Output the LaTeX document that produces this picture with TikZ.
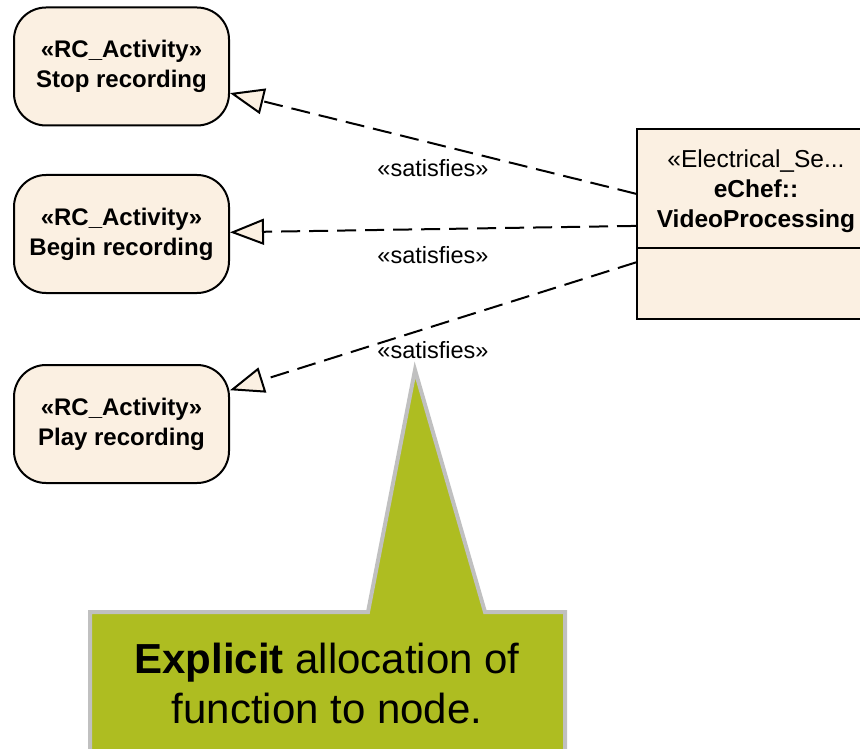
\documentclass[tikz,border=0pt]{standalone}
\usepackage{fontspec}
\setmainfont{Liberation Sans}
\usepackage{tikz}
\usetikzlibrary{arrows.meta}

\definecolor{boxfill}{HTML}{FBF0E2}
\definecolor{notefill}{HTML}{AEBD21}
\definecolor{noteline}{HTML}{C0C0C0}

\begin{document}
\begin{tikzpicture}[x=1pt,y=-1pt,
	every node/.style={black},
	activity/.style={draw,line width=2pt,fill=boxfill,rounded corners=32pt,minimum width=215pt,minimum height=118pt,inner sep=0pt,align=center,font=\fontsize{24}{30}\selectfont\bfseries},
	block/.style={draw,line width=2pt,fill=boxfill,minimum width=242pt,minimum height=190pt,inner sep=0pt},
	satisfies/.style={dash pattern=on 19pt off 9pt,line width=2pt,-{Triangle[length=34pt,width=26pt,fill=boxfill]}},
	stereo/.style={font=\fontsize{23.5}{24}\selectfont,inner sep=0pt}]
	\useasboundingbox (0,0) rectangle (860,749);
	\clip (0,0) rectangle (860,749);

	\node[activity] (stop) at (121.5,66.5) {«RC\_Activity»\\Stop recording};
	\node[activity] (begin) at (121.5,234) {«RC\_Activity»\\Begin recording};
	\node[activity] (play) at (121.5,424) {«RC\_Activity»\\Play recording};

	\node[block] (vp) at (758,224) {};
	\draw[line width=2pt] (637,248) -- (879,248);
	\node[align=center,inner sep=0pt,font=\fontsize{24.5}{30}\selectfont] (vptext) at (756,191) {«Electrical\_Se...\\\textbf{eChef::}\\\textbf{VideoProcessing}};

	\draw[satisfies] (vp) -- (stop) node[stereo,midway,yshift=-25pt]{«satisfies»};
	\draw[satisfies] (vp) -- (begin) node[stereo,midway,yshift=-26pt]{«satisfies»};
	\draw[satisfies] (vp) -- (play) node[stereo,midway,yshift=-24pt]{«satisfies»};

	\filldraw[fill=notefill,draw=noteline,line width=4pt,line join=miter] (90,612) -- (368,612) -- (415,370) -- (485,612) -- (565,612) -- (565,770) -- (90,770) -- cycle;
	\node[align=center,inner sep=0pt,font=\fontsize{42}{50}\selectfont] (note) at (327,683) {\textbf{Explicit} allocation of\\function to node.};
\end{tikzpicture}
\end{document}
